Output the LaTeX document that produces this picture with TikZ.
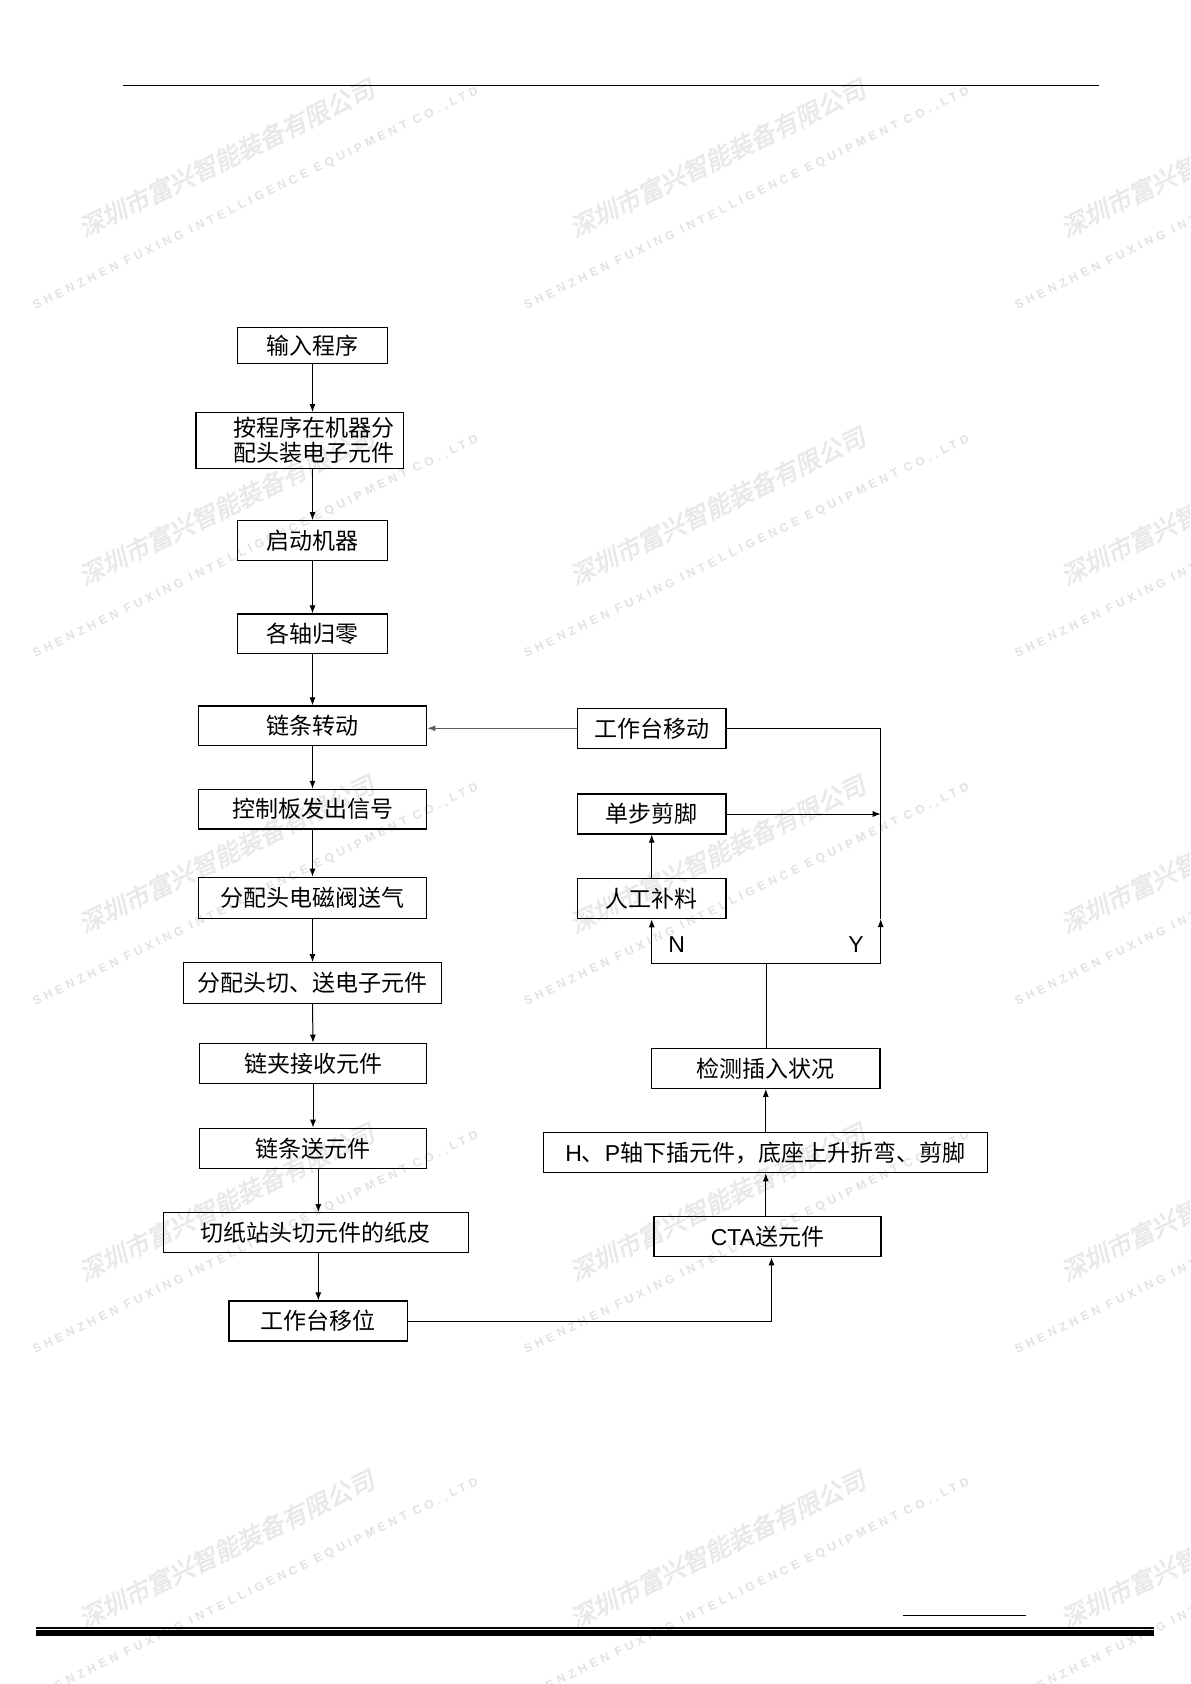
\documentclass[tikz,border=0pt]{standalone}
\usepackage{fontspec}
\setmainfont{Noto Sans CJK SC}
\newfontfamily\latfont{Liberation Sans}
\newfontfamily\wmfont[FakeBold=2.5,FakeSlant=0.22]{Noto Sans CJK SC}
\newfontfamily\wmlatin[LetterSpace=33]{Liberation Sans}
\usetikzlibrary{arrows.meta,calc}
\definecolor{wmgray}{RGB}{233,233,233}
\definecolor{wmgrayen}{RGB}{226,226,226}
\definecolor{linegray}{RGB}{95,95,95}
\newcommand{\boxfont}{\fontsize{11.5pt}{12.5pt}\selectfont}
\tikzset{
  box/.style={draw, line width=0.6pt, inner sep=0pt, align=center, font=\boxfont},
  boxtext/.style={inner sep=0pt, align=center, font=\boxfont},
  arr/.style={-{Latex[length=4pt,width=3pt]}, line width=0.5pt},
  link/.style={line width=0.5pt},
  lab/.style={font=\latfont\fontsize{11.5pt}{12.5pt}\selectfont, inner sep=0pt},
  wmcn/.style={text=wmgray, font=\wmfont\fontsize{12.5pt}{13pt}\selectfont, inner sep=0pt, anchor=base west, rotate=26},
  wmen/.style={text=wmgrayen, font=\wmlatin\bfseries\fontsize{6pt}{6.5pt}\selectfont, inner sep=0pt, anchor=base west, rotate=26}
}

\begin{document}
\begin{tikzpicture}[x=0.5pt, y=-0.5pt]

% ── Page ─────────────────────────────────────────────────────────────
\useasboundingbox (0,0) rectangle (1190,1684);
\fill[white] (0,0) rectangle (1190,1684);

% ── Watermark tiles ──────────────────────────────────────────────────
\begin{scope}
  \clip (0,0) rectangle (1190,1684);
  \foreach \cx in {0,491,982} {
    \foreach \cy in {238,586,934,1282,1629} {
      \node[wmcn] (wmc-\cx-\cy) at (84+\cx, \cy) {深圳市富兴智能装备有限公司};
      \node[wmen] (wme-\cx-\cy) at (35+\cx, \cy+72) {SHENZHEN FUXING INTELLIGENCE EQUIPMENT CO.,LTD};
    }
  }
\end{scope}

% ── Header and footer rules ──────────────────────────────────────────
\draw[line width=0.75pt] (123.3,85.3) -- (1099,85.3);
\draw[line width=0.5pt] (903,1615) -- (1025.7,1615);
\draw[line width=1pt] (36,1627.7) -- (1154,1627.7);
\fill[black] (36,1630) rectangle (1154,1635.7);

% ── Macro for one box ────────────────────────────────────────────────
% #1=name, #2=x, #3=y, #4=width (px), #5=height (px), #6=text
\newcommand{\flowbox}[6]{%
  \node[box, minimum width=#4*0.5pt, minimum height=#5*0.5pt] (#1) at (#2,#3) {#6};
}

% ── Left column (top to bottom) ──────────────────────────────────────
\flowbox{sr}{312.5}{345.3}{149.6}{36}{输入程序}
\flowbox{ap}{299.7}{440.5}{207.3}{55.6}{}
\node[boxtext] (ap-text) at (313.6,440.5) {按程序在机器分\\配头装电子元件};
\flowbox{qd}{312.5}{540.7}{149.6}{40}{启动机器}
\flowbox{gz}{312.5}{633.7}{149.6}{39.3}{各轴归零}
\flowbox{lz}{312.5}{725.8}{228.4}{39.7}{链条转动}
\flowbox{kz}{312.5}{809.2}{228.4}{39.7}{控制板发出信号}
\flowbox{dc}{312.5}{897.8}{228.4}{41}{分配头电磁阀送气}
\flowbox{fq}{312.5}{983}{258.4}{40.6}{分配头切、送电子元件}
\flowbox{lj}{313}{1063.3}{227.4}{40}{链夹接收元件}
\flowbox{ls}{313}{1148.3}{227.4}{40}{链条送元件}
\flowbox{qz}{315.8}{1232.7}{305}{40}{切纸站头切元件的纸皮}
\flowbox{yw}{318.3}{1321}{178.7}{40}{工作台移位}

% ── Right column ─────────────────────────────────────────────────────
\flowbox{gm}{651.7}{728.3}{148.7}{40}{工作台移动}
\flowbox{dj}{651.7}{814}{148.7}{40}{单步剪脚}
\flowbox{bl}{651.7}{898.5}{148.7}{40.4}{人工补料}
\flowbox{jc}{765.8}{1068.3}{228.3}{40}{检测插入状况}
\flowbox{hp}{765.3}{1152.5}{444}{40.4}{{\latfont H}、{\latfont P}轴下插元件，底座上升折弯、剪脚}
\flowbox{cta}{767.5}{1236.7}{227}{40}{{\latfont CTA}送元件}

% ── Left column arrows ───────────────────────────────────────────────
\draw[arr] (sr.south) -- (sr.south |- ap.north);
\draw[arr] (qd.north |- ap.south) -- (qd.north);
\foreach \a/\b in {qd/gz, gz/lz, lz/kz, kz/dc, dc/fq, fq/lj, lj/ls} {
  \draw[arr] (\a.south) -- (\b.north);
}
\draw[arr] (ls.south -| yw.north) -- (qz.north -| yw.north);
\draw[arr] (qz.south -| yw.north) -- (yw.north);

% ── Across to the right column and upwards ───────────────────────────
\draw[arr] (yw.east) -| ([xshift=2pt]cta.south);
\draw[arr] (cta.north -| jc.south) -- (hp.south -| jc.south);
\draw[arr] (jc.south |- hp.north) -- (jc.south);

% ── Decision branch N / Y ────────────────────────────────────────────
\coordinate (fork) at (766.7,963.3);
\coordinate (ycorner) at (880.7,963.3);
\coordinate (ytip) at (880.7,919);
\draw[link] (fork |- jc.north) -- (fork);
\draw[arr] (fork) -| (bl.south);
\draw[arr] (fork) -- (ycorner) -- (ytip);
\node[lab] (nlab) at (676.7,945) {N};
\node[lab] (ylab) at (856,945) {Y};

% ── Return loop ──────────────────────────────────────────────────────
\draw[arr] (bl.north) -- (dj.south);
\draw[arr] (dj.east) -- (dj.east -| ytip);
\draw[link] (gm.east) -| (ytip);
\draw[arr, linegray] (gm.west) -- (gm.west -| lz.east);

\end{tikzpicture}
\end{document}
